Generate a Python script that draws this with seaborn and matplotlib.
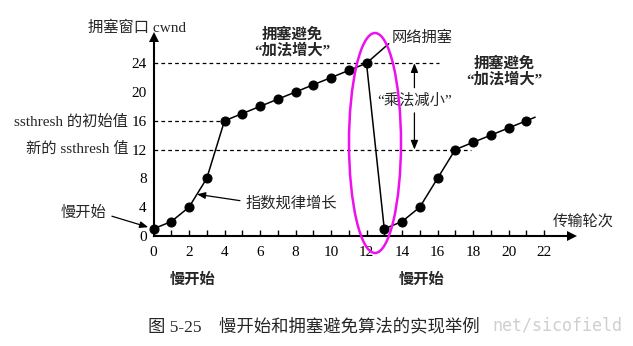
import matplotlib
matplotlib.use("Agg")
import matplotlib.pyplot as plt
from matplotlib.patches import Ellipse
import pandas as pd
import seaborn as sns

# TCP congestion window per transmission round
rounds = list(range(0, 22))
cwnd = [1, 2, 4, 8, 16, 17, 18, 19, 20, 21, 22, 23, 24,
        1, 2, 4, 8, 12, 13, 14, 15, 16]
ssthresh_init = 16
ssthresh_new = 12
cwnd_peak = 24
x_ticks = list(range(0, 23))
x_labels = [str(t) if t % 2 == 0 else "" for t in x_ticks]
y_ticks = [0, 4, 8, 12, 16, 20, 24]

sns.set_theme(style="white")
plt.rcParams["font.family"] = ["Liberation Serif", "Noto Sans CJK SC"]
plt.rcParams["axes.unicode_minus"] = False

W, H = 633, 346
fig = plt.figure(figsize=(W / 100, H / 100), dpi=100)
fig.patch.set_facecolor("white")

# pixel geometry of the plotting frame
X0, Y0 = 153.5, 236.0
SX, SY = 17.75, 7.2
X_END, Y_END = 572.0, 37.0


def fx(px):
    return px / W


def fy(py):
    return 1 - py / H


ax = fig.add_axes([fx(X0), fy(Y0), (X_END - X0) / W, (Y0 - Y_END) / H])
ax.set_facecolor("none")

df = pd.DataFrame({"round": rounds, "cwnd": cwnd})
sns.lineplot(data=df, x="round", y="cwnd", ax=ax, color="black", lw=1.1,
             marker="o", markersize=6.5, markeredgecolor="black",
             markerfacecolor="black", clip_on=False, zorder=5)
# the last segment keeps rising past the final round
slope = cwnd[-1] - cwnd[-2]
ax.plot([rounds[-1], rounds[-1] + 0.5], [cwnd[-1], cwnd[-1] + 0.5 * slope],
        color="black", lw=1.1, zorder=5)

ax.set_xlim(0, (X_END - X0) / SX)
ax.set_ylim(0, (Y0 - Y_END) / SY)

# threshold guide lines
dash = (0, (3, 2.5))
ax.plot([0, 16.1], [cwnd_peak, cwnd_peak], ls=dash, lw=0.9, color="black")
ax.plot([0, 4], [ssthresh_init, ssthresh_init], ls=dash, lw=0.9, color="black")
ax.plot([0, 17.9], [ssthresh_new, ssthresh_new], ls=dash, lw=0.9, color="black")

# axes styling
for s in ["top", "right"]:
    ax.spines[s].set_visible(False)
for s in ["left", "bottom"]:
    ax.spines[s].set_color("black")
    ax.spines[s].set_linewidth(1.5)
ax.set_xticks(x_ticks)
ax.set_xticklabels(x_labels)
ax.set_yticks(y_ticks)
ax.set_yticklabels([str(v) for v in y_ticks])
ax.tick_params(axis="x", bottom=True, direction="in", length=4, width=1,
               pad=7, labelsize=11, colors="black")
ax.tick_params(axis="y", left=True, length=0, pad=5, labelsize=11,
               colors="black")
ax.set_xlabel("")
ax.set_ylabel("")

# arrow heads on the axes
ax.plot([1], [0], marker=">", ms=7, color="black", transform=ax.transAxes,
        clip_on=False, markeredgewidth=0)
ax.plot([0], [1], marker="^", ms=7, color="black", transform=ax.transAxes,
        clip_on=False, markeredgewidth=0)

fs = 11
fig.text(fx(137), fy(28), "拥塞窗口 cwnd", ha="center", va="center", fontsize=fs)
fig.text(fx(583), fy(222), "传输轮次", ha="center", va="center", fontsize=fs)
fig.text(fx(128), fy(122), "ssthresh 的初始值", ha="right", va="center", fontsize=fs)
fig.text(fx(128), fy(149), "新的 ssthresh 值", ha="right", va="center", fontsize=fs)

arrow_kw = dict(arrowstyle="-|>,head_length=0.45,head_width=0.18", lw=0.9,
                color="black")

ax.annotate("慢开始", xy=(0, 1), xytext=(fx(106), fy(213)),
            textcoords="figure fraction", ha="right", va="center", fontsize=fs,
            annotation_clip=False,
            arrowprops=dict(**arrow_kw, relpos=(1, 0.4), shrinkA=2, shrinkB=4))
ax.annotate("指数规律增长", xy=(2.45, 5.8), xytext=(fx(246), fy(203)),
            textcoords="figure fraction", ha="left", va="center", fontsize=fs,
            annotation_clip=False,
            arrowprops=dict(**arrow_kw, relpos=(0, 0.6), shrinkA=2, shrinkB=0))
ax.annotate("网络拥塞", xy=(12, cwnd_peak), xytext=(fx(392), fy(38)),
            textcoords="figure fraction", ha="left", va="center", fontsize=fs,
            annotation_clip=False,
            arrowprops=dict(arrowstyle="-", lw=1.1, color="black",
                            relpos=(0, 0.3), shrinkA=0, shrinkB=0))

# multiplicative decrease bracket
xm = 14.7
ax.annotate("", xy=(xm, cwnd_peak), xytext=(xm, 20.6), annotation_clip=False,
            arrowprops=dict(**arrow_kw, shrinkA=0, shrinkB=0))
ax.annotate("", xy=(xm, ssthresh_new), xytext=(xm, 17.1), annotation_clip=False,
            arrowprops=dict(**arrow_kw, shrinkA=0, shrinkB=0))
ax.text(xm, 18.9, "“乘法减小”", ha="center", va="center", fontsize=fs)

# phase labels
fig.text(fx(292), fy(42), "拥塞避免\n“加法增大”", ha="center", va="center",
         fontsize=fs, fontweight="bold", linespacing=1.1)
fig.text(fx(504), fy(71), "拥塞避免\n“加法增大”", ha="center", va="center",
         fontsize=fs, fontweight="bold", linespacing=1.1)
fig.text(fx(193), fy(280), "慢开始", ha="center", va="center", fontsize=fs,
         fontweight="bold")
fig.text(fx(422), fy(280), "慢开始", ha="center", va="center", fontsize=fs,
         fontweight="bold")

# highlight around the congestion event
ell = Ellipse(((375 - X0) / SX, (Y0 - 143) / SY), 52 / SX, 220 / SY,
              fill=False, edgecolor="#ee10ee", lw=1.8, clip_on=False, zorder=6)
ax.add_patch(ell)

fig.text(fx(148), fy(327), "图 5-25    慢开始和拥塞避免算法的实现举例",
         ha="left", va="center", fontsize=12.5)
fig.text(fx(492), fy(326), "net/sicofield", ha="left", va="center",
         fontsize=12, color="#cfcfcf", family="DejaVu Sans Mono")

fig.savefig("out.png", dpi=100, facecolor="white")
